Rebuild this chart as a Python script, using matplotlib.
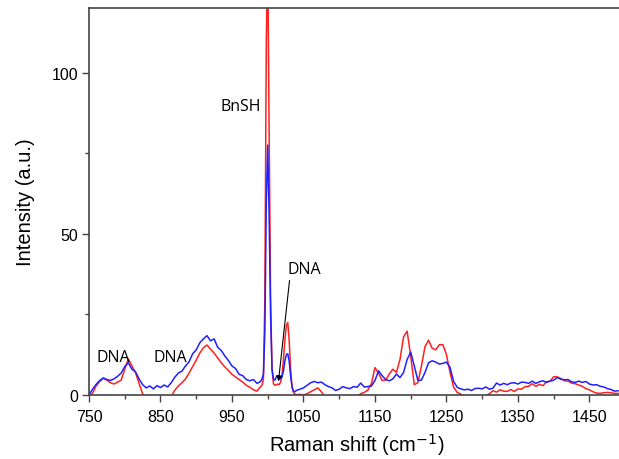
import matplotlib
matplotlib.use("Agg")
import matplotlib.pyplot as plt
import numpy as np

# Raman shift positions (cm-1)
shift_a = list(range(750, 991, 5))
shift_b = list(range(992, 1041, 2))
shift_c = list(range(1045, 1491, 5))

red_a = [-1.0, 0.6, 2.8, 4.2, 5.2, 4.6, 3.8, 3.4, 4.0, 4.6,
         8.0, 11.2, 9.0, 7.0, 3.6, 0.4, -2.0, -3.0, -3.0, -3.0,
         -3.0, -3.0, -2.0, -0.5, 1.5, 2.8, 3.8, 5.0, 6.8, 8.8,
         10.8, 13.0, 14.6, 15.5, 14.2, 13.0, 11.5, 10.0, 8.7, 7.6,
         6.4, 5.6, 4.8, 4.0, 3.0, 2.4, 1.6, 1.2, 2.6]
blue_a = [0.0, 1.8, 3.3, 4.5, 5.3, 4.8, 4.5, 5.0, 5.8, 6.8,
          8.8, 10.0, 8.0, 7.2, 5.0, 3.2, 2.2, 2.8, 1.9, 2.9,
          2.3, 3.1, 2.5, 3.8, 5.5, 6.8, 7.4, 9.0, 10.3, 12.8,
          14.0, 16.2, 17.4, 18.4, 16.8, 17.4, 14.8, 13.8, 12.1, 10.7,
          9.0, 8.2, 6.4, 6.0, 4.8, 4.4, 4.8, 3.6, 4.2]

red_b = [3.0, 5.0, 30.0, 110.0, 135.0, 80.0, 30.0, 8.0, 3.5, 3.0,
         3.2, 3.4, 3.2, 4.0, 6.0, 11.0, 17.0, 21.5, 22.5, 17.0,
         8.0, 2.5, 0.8, 0.3, 0.1]
blue_b = [5.0, 6.5, 20.0, 60.0, 77.5, 55.0, 25.0, 8.0, 5.0, 4.6,
          5.6, 6.0, 5.4, 5.0, 5.6, 7.5, 10.5, 12.5, 12.8, 10.5,
          6.0, 2.5, 1.2, 1.0, 1.4]

red_c = [0.2, 0.0, 0.4, 1.0, 1.6, 2.2, 1.0, -0.5, -1.5, -1.5,
         -1.5, -1.5, -1.5, -1.5, -1.5, -1.0, -0.5, 0.4, 0.8, 1.5,
         3.5, 8.5, 6.8, 4.5, 4.6, 6.5, 8.0, 7.0, 11.0, 18.0,
         19.8, 12.0, 3.2, 3.8, 9.0, 15.0, 17.0, 14.5, 14.0, 15.6,
         15.6, 12.5, 7.0, 2.4, 0.8, 0.3, -0.5, -1.0, -1.0, -1.0,
         -1.0, -0.8, -0.3, 0.4, 1.3, 0.9, 1.6, 1.2, 1.1, 1.7,
         1.1, 1.9, 1.8, 2.6, 2.7, 3.5, 2.7, 3.3, 2.9, 4.1,
         4.3, 5.7, 5.6, 5.1, 4.4, 4.3, 3.7, 3.5, 3.1, 2.7,
         2.0, 1.6, 1.0, 0.6, 0.5, 0.7, 0.8, 0.7, 0.5, 0.5]
blue_c = [1.8, 2.2, 3.0, 3.8, 4.2, 3.8, 4.0, 3.2, 2.6, 2.2,
          1.4, 1.8, 2.6, 2.2, 2.0, 2.6, 2.4, 3.7, 2.5, 2.6,
          2.8, 4.5, 7.5, 6.0, 4.8, 4.4, 5.0, 6.5, 5.4, 7.0,
          11.0, 13.3, 9.0, 4.5, 4.6, 7.0, 10.0, 10.6, 10.2, 9.6,
          9.8, 10.2, 8.6, 4.2, 2.4, 1.9, 1.6, 1.8, 1.4, 2.0,
          2.1, 1.9, 2.5, 1.8, 2.1, 3.7, 3.1, 3.6, 3.2, 3.7,
          3.8, 3.4, 4.0, 3.9, 3.6, 4.3, 3.6, 4.1, 4.4, 3.9,
          4.3, 4.6, 5.4, 4.9, 4.7, 4.8, 4.1, 3.9, 4.3, 3.9,
          4.2, 3.4, 3.1, 3.2, 2.7, 2.5, 2.0, 1.7, 1.2, 1.3]

x_ticks = [750, 850, 950, 1050, 1150, 1250, 1350, 1450]
y_ticks = [0, 50, 100]

shift = shift_a + shift_b + shift_c[:len(red_c)]
red = red_a + red_b + red_c
blue = blue_a + blue_b + blue_c
n = min(len(shift), len(red), len(blue))
shift, red, blue = shift[:n], red[:n], blue[:n]

axfont = ["Liberation Sans", "DejaVu Sans"]
annfont = ["Open Sans", "DejaVu Sans"]

fig = plt.figure(figsize=(6.19, 4.60), dpi=100)
ax = fig.add_axes([89/619, 64/460, 1 - 89/619 + 0.01, (396 - 9)/460])

ax.plot(shift, red, color="#ff1f1f", lw=1.1)
ax.plot(shift, blue, color="#1f1fff", lw=1.1)

ax.set_xlim(750, 1490)
ax.set_ylim(0, 120)
ax.set_xticks(x_ticks)
ax.set_xticks([t + 50 for t in x_ticks], minor=True)
ax.set_yticks(y_ticks)
ax.set_yticks([25, 75], minor=True)

for s in ["left", "bottom", "top"]:
    ax.spines[s].set_color("#444444")
    ax.spines[s].set_linewidth(1.2)
ax.spines["right"].set_visible(False)

ax.tick_params(which="major", direction="out", length=5, width=1.0,
               color="#444444", labelsize=11.5)
ax.tick_params(axis="x", which="major", pad=5)
ax.tick_params(axis="y", which="major", pad=3)
ax.tick_params(which="minor", direction="out", length=3, width=1.0,
               color="#444444")
for lab in ax.get_xticklabels() + ax.get_yticklabels():
    lab.set_family(axfont)

ax.set_xlabel("Raman shift (cm$^{-1}$)", fontsize=14.5, family=axfont, labelpad=5)
ax.set_ylabel("Intensity (a.u.)", fontsize=14.5, family=axfont, labelpad=12)

ax.text(962, 89.5, "BnSH", fontsize=11.5, family=annfont, ha="center", va="center")
ax.text(1028, 39, "DNA", fontsize=11.5, family=annfont, ha="left", va="center")
ax.text(760, 11.8, "DNA", fontsize=11.5, family=annfont, ha="left", va="center")
ax.text(840, 11.8, "DNA", fontsize=11.5, family=annfont, ha="left", va="center")
ax.annotate("", xy=(1015, 4.2), xytext=(1030.5, 35.5),
            arrowprops=dict(arrowstyle="-|>", color="black", lw=0.8,
                            mutation_scale=8, shrinkA=0, shrinkB=0))

fig.savefig("out.png", dpi=100)
